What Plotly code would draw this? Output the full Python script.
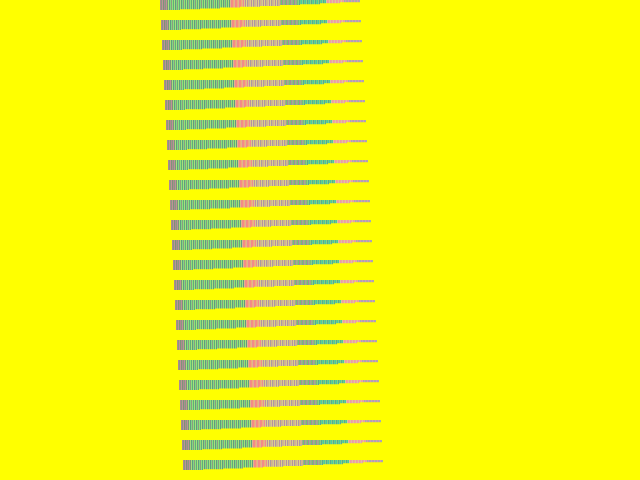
import plotly.graph_objects as go

# Step lengths of the hanging bars (one value per 20-unit segment)
step_lengths = [10, 9.2, 8.4, 7.6, 6.8, 6.0, 5.1, 4.2, 3.2, 2.2]
segment_width = 20
bar_width = 1
n_rows = 24
row_spacing = 20
row_start_x = 160
row_shift = 1

# Colour groups: (relative start, relative end, cycling colours)
color_groups = [
    (0, 8, ["#b08890", "#889a80", "#c09098", "#7c9478"]),
    (8, 70, ["#8fe27a", "#5fae78", "#a8e07a", "#609c80", "#80d880", "#8c9c80"]),
    (70, 84, ["#f48e80", "#f2a87e", "#e0b88a", "#f08890"]),
    (84, 120, ["#d9c98f", "#b8909c", "#e0d090", "#a89ca0", "#d6b08c", "#c8b894"]),
    (120, 138, ["#a3a38e", "#70c078", "#a88898", "#98b890"]),
    (138, 166, ["#6ccc88", "#48c8a0", "#8cd084", "#58a890"]),
    (166, 184, ["#f0a2a0", "#dcc6a0", "#e89ca8"]),
    (184, 200, ["#c098b0", "#a0b0b0", "#d0a0b0"]),
]

rel_x = list(range(0, segment_width * len(step_lengths), bar_width))


def color_at(rx):
    for lo, hi, cols in color_groups:
        if lo <= rx < hi:
            return cols[(rx // bar_width) % len(cols)]
    return color_groups[-1][2][0]


xs, bases, lengths, colors = [], [], [], []
for r in range(n_rows):
    x0 = row_start_x + r * row_shift
    y0 = r * row_spacing
    for rx in rel_x:
        xs.append(x0 + rx + bar_width / 2)
        bases.append(y0)
        lengths.append(step_lengths[rx // segment_width])
        colors.append(color_at(rx))

fig = go.Figure(
    go.Bar(
        x=xs,
        y=lengths,
        base=bases,
        width=bar_width,
        marker=dict(color=colors, line=dict(width=0)),
        hoverinfo="skip",
    )
)
fig.update_layout(
    width=640,
    height=480,
    margin=dict(l=0, r=0, t=0, b=0),
    paper_bgcolor="#ffff00",
    plot_bgcolor="#ffff00",
    showlegend=False,
    barmode="overlay",
    xaxis=dict(range=[0, 640], visible=False, fixedrange=True),
    yaxis=dict(range=[480, 0], visible=False, fixedrange=True),
)
fig.write_html(
    "out.html",
    config={"displayModeBar": False},
    post_script="document.body.style.margin='0';document.body.style.background='#ffff00';document.body.style.overflow='hidden';",
)
